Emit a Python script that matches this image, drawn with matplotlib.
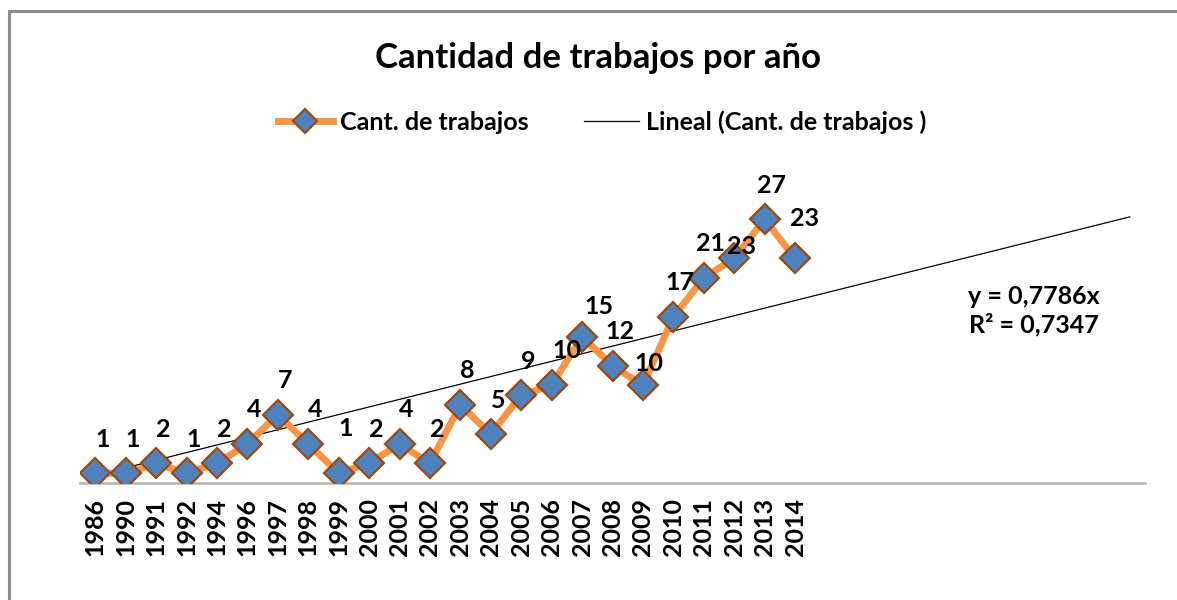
import numpy as np
import matplotlib.pyplot as plt
from matplotlib.patches import Rectangle

# Datos
anios = ['1986', '1990', '1991', '1992', '1994', '1996', '1997', '1998', '1999',
         '2000', '2001', '2002', '2003', '2004', '2005', '2006', '2007', '2008',
         '2009', '2010', '2011', '2012', '2013', '2014']
trabajos = [1, 1, 2, 1, 2, 4, 7, 4, 1, 2, 4, 2, 8, 5, 9, 10, 15, 12, 10, 17,
            21, 23, 27, 23]
pronostico = 11   # periodos hacia adelante de la linea de tendencia
r2_texto = 'R² = 0,7347'

plt.rcParams['font.family'] = ['Lato', 'DejaVu Sans']
plt.rcParams['font.weight'] = 'bold'

fig = plt.figure(figsize=(11.77, 6.0), dpi=100)
W, H = 1177, 600

# marco del grafico
fig.patches.append(Rectangle((9 / W, -0.1), 1.2, (600 - 11) / H + 0.1,
                             transform=fig.transFigure, fill=False,
                             edgecolor='#8c8c8c', linewidth=2.2))

ax = fig.add_axes([80 / W, (600 - 483) / H, (1145 - 80) / W, (483 - 190) / H])

xi = np.arange(1, len(trabajos) + 1)
yi = np.array(trabajos, dtype=float)

# tendencia lineal con intercepto en cero
pendiente = np.sum(xi * yi) / np.sum(xi * xi)
xt = np.array([1, len(trabajos) + pronostico])
ax.plot(xt, pendiente * xt, color='black', linewidth=0.9, zorder=2,
        label='Lineal (Cant. de trabajos )')

ax.plot(xi, yi, color='#F79646', linewidth=5, marker='D', markersize=15,
        markerfacecolor='#4F81BD', markeredgecolor='#9C4A12',
        markeredgewidth=1.6, zorder=3, label='Cant. de trabajos')

# etiquetas de datos (desplazamiento en pixeles)
ajustes = {'1999': (7, -45), '2006': (15, -35), '2007': (17, -30),
           '2009': (6, -22), '2012': (7, -12), '2014': (9, -40)}
for x, y, a in zip(xi, trabajos, anios):
    dx, dy = ajustes.get(a, (7, -34))
    ax.annotate(str(y), (x, y), xytext=(dx * 0.72, -dy * 0.72),
                textcoords='offset points', ha='center', va='center',
                fontsize=18, fontweight='bold', color='black')

ax.set_xlim(0.5, len(trabajos) + pronostico + 0.5)
ax.set_ylim(0, 30)
ax.set_xticks(xi)
ax.set_xticklabels(anios, rotation=90, fontsize=18, fontweight='bold')
ax.tick_params(axis='x', length=0, pad=11)
ax.set_yticks([])
for s in ['top', 'right', 'left']:
    ax.spines[s].set_visible(False)
ax.spines['bottom'].set_color('#b4b4b4')
ax.spines['bottom'].set_linewidth(1.8)

fig.text(1034 / W, 1 - 297 / H, 'y = ' + f'{pendiente:.4f}'.replace('.', ',') + 'x',
         ha='center', va='center', fontsize=18, fontweight='bold')
fig.text(1034 / W, 1 - 325 / H, r2_texto, ha='center', va='center',
         fontsize=18, fontweight='bold')

fig.text(598 / W, 1 - 58 / H, 'Cantidad de trabajos por año', ha='center',
         va='center', fontsize=25, fontweight='bold')

fig.legend(loc='center', bbox_to_anchor=(602 / W, 1 - 122 / H), ncol=2,
           frameon=False, fontsize=18, handlelength=2.2, handletextpad=0.3,
           columnspacing=2.2, markerscale=0.8, reverse=True)

fig.savefig('out.png', dpi=100)
